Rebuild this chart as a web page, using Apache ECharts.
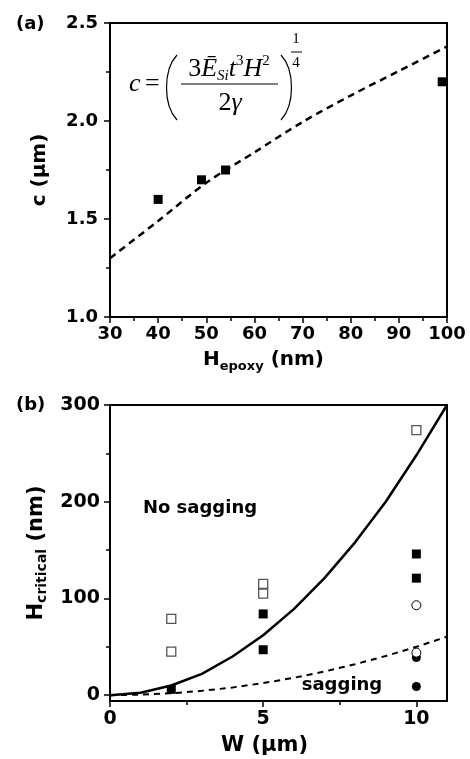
<!DOCTYPE html>
<html>
<head>
<meta charset="utf-8">
<script src="https://cdn.jsdelivr.net/npm/echarts@6/dist/echarts.min.js"></script>
<style>
  html, body { margin: 0; padding: 0; background: #fff; }
  #chart { width: 470px; height: 759px; }
</style>
</head>
<body>
<div id="chart"></div>
<script>
// (a) measured c vs H_epoxy, plus the model curve
var hEpoxy = [40, 49, 54, 99];
var cMeasured = [1.60, 1.70, 1.75, 2.20];
var hModel = [30, 40, 50, 60, 70, 80, 90, 100];
var cModel = [1.30, 1.49, 1.685, 1.84, 1.995, 2.13, 2.255, 2.38];

// (b) critical height vs width
var wCurve = [0, 1, 2, 3, 4, 5, 6, 7, 8, 9, 10, 11];
var hSolid = [0, 2.5, 10, 22, 40, 62, 89, 121, 158, 200, 248, 300];
var hDashed = [0, 0.5, 2, 4.5, 8, 12.5, 18, 24.5, 32, 40.5, 50, 60.5];
var openSq = [[2, 79], [2, 45], [5, 115], [5, 105], [10, 274]];
var fillSq = [[2, 6], [5, 84], [5, 47], [10, 146], [10, 121]];
var fillCirc = [[10, 39], [10, 9]];
var openCirc = [[10, 93], [10, 44]];

var xTicksB = [0, 5, 10];
var xMinorB = [2.5, 7.5];
var yTicksB = [0, 100, 200, 300];
var yMinorB = [50, 150, 250];

var FONT = 'DejaVu Sans';
var SERIF = 'Liberation Serif';

function zip(a, b) {
    return a.map(function (v, i) { return [v, b[i]]; });
}

var labelStyle = { color: '#000', fontFamily: FONT, fontWeight: 'bold', fontSize: 18 };
var axisLine = { show: true, onZero: false, lineStyle: { color: '#000', width: 2 } };

var option = {
    backgroundColor: '#fff',
    animation: false,
    grid: [
        { left: 110, top: 23, width: 337, height: 294, show: true, borderColor: '#000', borderWidth: 2 },
        { left: 110, top: 405, width: 337, height: 296, show: true, borderColor: '#000', borderWidth: 2 }
    ],
    xAxis: [{
        gridIndex: 0, type: 'value', min: 30, max: 100, interval: 10, position: 'bottom',
        axisLine: axisLine,
        axisTick: { length: 6, lineStyle: { color: '#000', width: 1.5 } },
        minorTick: { show: true, splitNumber: 2, length: 4, lineStyle: { color: '#000', width: 1.5 } },
        axisLabel: Object.assign({ margin: 8 }, labelStyle),
        splitLine: { show: false },
        name: '{m|H}{s|epoxy}{m| (nm)}',
        nameLocation: 'middle', nameGap: 30,
        nameTextStyle: {
            padding: [0, 30, 0, 0],
            rich: {
                m: { fontFamily: FONT, fontWeight: 'bold', fontSize: 20, color: '#000', lineHeight: 26 },
                s: { fontFamily: FONT, fontWeight: 'bold', fontSize: 13, color: '#000', lineHeight: 14, verticalAlign: 'bottom' }
            }
        }
    }, {
        gridIndex: 1, type: 'value', min: 0, max: 11, position: 'bottom',
        axisLine: axisLine,
        axisTick: { length: 6, customValues: xTicksB, lineStyle: { color: '#000', width: 1.5 } },
        axisLabel: Object.assign({ margin: 9, customValues: xTicksB }, labelStyle, { fontSize: 19 }),
        splitLine: { show: false },
        name: 'W (μm)',
        nameLocation: 'middle', nameGap: 34,
        nameTextStyle: { fontFamily: FONT, fontWeight: 'bold', fontSize: 21, color: '#000', padding: [0, 28, 0, 0] }
    }, {
        // minor ticks only
        gridIndex: 1, type: 'value', min: 0, max: 11, position: 'bottom', offset: 0,
        axisLine: { show: false, onZero: false },
        axisTick: { length: 4, customValues: xMinorB, lineStyle: { color: '#000', width: 1.5 } },
        axisLabel: { show: false },
        splitLine: { show: false }
    }],
    yAxis: [{
        gridIndex: 0, type: 'value', min: 1.0, max: 2.5, interval: 0.5, position: 'left',
        axisLine: axisLine,
        axisTick: { length: 6, lineStyle: { color: '#000', width: 1.5 } },
        minorTick: { show: true, splitNumber: 2, length: 4, lineStyle: { color: '#000', width: 1.5 } },
        axisLabel: Object.assign({ margin: 12, formatter: function (v) { return v.toFixed(1); } }, labelStyle),
        splitLine: { show: false },
        name: 'c (μm)',
        nameLocation: 'middle', nameRotate: 90, nameGap: 60,
        nameTextStyle: { fontFamily: FONT, fontWeight: 'bold', fontSize: 20, color: '#000' }
    }, {
        gridIndex: 1, type: 'value', min: -6, max: 300, position: 'left',
        axisLine: axisLine,
        axisTick: { length: 6, customValues: yTicksB, lineStyle: { color: '#000', width: 1.5 } },
        axisLabel: Object.assign({ margin: 10, customValues: yTicksB }, labelStyle, { fontSize: 19 }),
        splitLine: { show: false },
        name: '{m|H}{s|critical}{m| (nm)}',
        nameLocation: 'middle', nameRotate: 90, nameGap: 60,
        nameTextStyle: {
            rich: {
                m: { fontFamily: FONT, fontWeight: 'bold', fontSize: 21, color: '#000', lineHeight: 26 },
                s: { fontFamily: FONT, fontWeight: 'bold', fontSize: 14, color: '#000', lineHeight: 15, verticalAlign: 'bottom' }
            }
        }
    }, {
        // minor ticks only
        gridIndex: 1, type: 'value', min: -6, max: 300, position: 'left', offset: 0,
        axisLine: { show: false, onZero: false },
        axisTick: { length: 4, customValues: yMinorB, lineStyle: { color: '#000', width: 1.5 } },
        axisLabel: { show: false },
        splitLine: { show: false }
    }],
    series: [
        {
            type: 'line', xAxisIndex: 0, yAxisIndex: 0, data: zip(hModel, cModel),
            showSymbol: false, smooth: 0.3, clip: true,
            lineStyle: { color: '#000', width: 2.5, type: [7, 5] }
        },
        {
            type: 'scatter', xAxisIndex: 0, yAxisIndex: 0, data: zip(hEpoxy, cMeasured),
            symbol: 'rect', symbolSize: 9, itemStyle: { color: '#000', opacity: 1 }
        },
        {
            type: 'line', xAxisIndex: 1, yAxisIndex: 1, data: zip(wCurve, hSolid),
            showSymbol: false, clip: true,
            lineStyle: { color: '#000', width: 2.5 }
        },
        {
            type: 'line', xAxisIndex: 1, yAxisIndex: 1, data: zip(wCurve, hDashed),
            showSymbol: false, clip: true,
            lineStyle: { color: '#000', width: 2, type: [6, 5] }
        },
        {
            type: 'scatter', xAxisIndex: 1, yAxisIndex: 1, data: openSq,
            symbol: 'rect', symbolSize: 9,
            itemStyle: { color: '#fff', borderColor: '#555', borderWidth: 1.3, opacity: 1 }
        },
        {
            type: 'scatter', xAxisIndex: 1, yAxisIndex: 1, data: fillSq,
            symbol: 'rect', symbolSize: 9, itemStyle: { color: '#000', opacity: 1 }
        },
        {
            type: 'scatter', xAxisIndex: 1, yAxisIndex: 1, data: fillCirc,
            symbol: 'circle', symbolSize: 9, itemStyle: { color: '#000', opacity: 1 }
        },
        {
            type: 'scatter', xAxisIndex: 1, yAxisIndex: 1, data: openCirc,
            symbol: 'circle', symbolSize: 9,
            itemStyle: { color: '#fff', borderColor: '#000', borderWidth: 1, opacity: 1 }
        }
    ],
    graphic: [
        { type: 'text', left: 16, top: 15, style: { text: '(a)', font: 'bold 18px "DejaVu Sans"', fill: '#000' } },
        { type: 'text', left: 16, top: 396, style: { text: '(b)', font: 'bold 18px "DejaVu Sans"', fill: '#000' } },
        { type: 'text', x: 200, y: 508, style: { text: 'No sagging', font: 'bold 18px "DejaVu Sans"', fill: '#000', align: 'center', verticalAlign: 'middle' } },
        { type: 'text', x: 342, y: 685, style: { text: 'sagging', font: 'bold 18px "DejaVu Sans"', fill: '#000', align: 'center', verticalAlign: 'middle' } },
        // formula
        { type: 'text', x: 129, y: 84, style: { text: 'c', font: 'italic 26px "Liberation Serif"', fill: '#000', verticalAlign: 'middle' } },
        { type: 'text', x: 145, y: 84, style: { text: '=', font: '26px "Liberation Serif"', fill: '#000', verticalAlign: 'middle' } },
        { type: 'bezierCurve', shape: { x1: 177, y1: 55, cpx1: 163, cpy1: 70, cpx2: 163, cpy2: 105, x2: 177, y2: 120 }, style: { stroke: '#000', lineWidth: 1.2, fill: null } },
        { type: 'bezierCurve', shape: { x1: 281, y1: 55, cpx1: 295, cpy1: 70, cpx2: 295, cpy2: 105, x2: 281, y2: 120 }, style: { stroke: '#000', lineWidth: 1.2, fill: null } },
        {
            type: 'text', x: 229, y: 69,
            style: {
                text: '{n|3}{i|Ē}{sub|Si}{i|t}{sup|3}{i|H}{sup|2}',
                align: 'center', verticalAlign: 'middle',
                rich: {
                    n: { fontFamily: SERIF, fontSize: 26, lineHeight: 30, fill: '#000' },
                    i: { fontFamily: SERIF, fontStyle: 'italic', fontSize: 26, lineHeight: 30, fill: '#000' },
                    sub: { fontFamily: SERIF, fontStyle: 'italic', fontSize: 15, lineHeight: 14, fill: '#000', verticalAlign: 'bottom' },
                    sup: { fontFamily: SERIF, fontSize: 15, lineHeight: 22, fill: '#000', verticalAlign: 'top' }
                }
            }
        },
        { type: 'line', shape: { x1: 181, y1: 84, x2: 278, y2: 84 }, style: { stroke: '#000', lineWidth: 1.2 } },
        {
            type: 'text', x: 230, y: 103,
            style: {
                text: '{n|2}{i|γ}', align: 'center', verticalAlign: 'middle',
                rich: {
                    n: { fontFamily: SERIF, fontSize: 26, fill: '#000' },
                    i: { fontFamily: SERIF, fontStyle: 'italic', fontSize: 26, fill: '#000' }
                }
            }
        },
        { type: 'text', x: 296, y: 39, style: { text: '1', font: '15px "Liberation Serif"', fill: '#000', align: 'center', verticalAlign: 'middle' } },
        { type: 'line', shape: { x1: 291, y1: 52, x2: 302, y2: 52 }, style: { stroke: '#000', lineWidth: 1 } },
        { type: 'text', x: 296, y: 63, style: { text: '4', font: '15px "Liberation Serif"', fill: '#000', align: 'center', verticalAlign: 'middle' } }
    ]
};

var chart = echarts.init(document.getElementById('chart'));
chart.setOption(option);
</script>
</body>
</html>
